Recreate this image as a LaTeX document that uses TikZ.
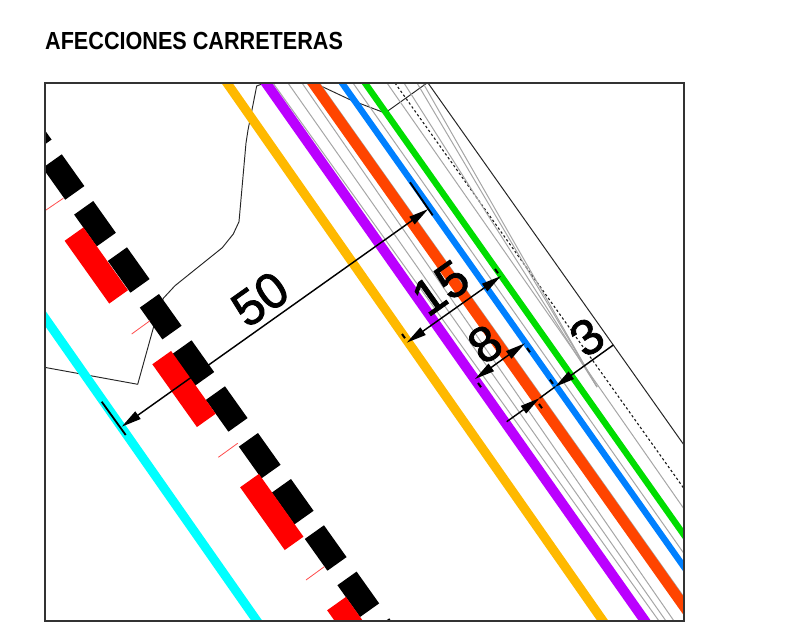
\documentclass[tikz,border=0pt]{standalone}
\usepackage{fontspec}
\setmainfont{Liberation Sans}
\newfontfamily\dimfont[FakeBold=1.6]{Liberation Sans}
\usetikzlibrary{arrows.meta}
\tikzset{
  x=1pt,y=-1pt,
  ext/.style={shorten >=-12pt,shorten <=-12pt},
  road/.style={ext,line cap=butt},
  grayline/.style={ext,draw=black!35,line width=1pt},
  thinline/.style={draw=black!85,line width=0.95pt,line join=round},
  blk/.style={fill=black,inner sep=0pt,minimum width=39pt,minimum height=23.5pt,rotate=-54.6,draw=none},
  redrect/.style={fill=red,inner sep=0pt,minimum width=77pt,minimum height=23pt,rotate=-54.6,draw=none},
  redtick/.style={draw=red!70!white,line width=0.8pt},
  dimline/.style={draw=black,line width=1.45pt},
  dimtip/.style={-{Triangle[length=20pt,width=9pt]}},
  bothtips/.style={{Triangle[length=20pt,width=9pt]}-{Triangle[length=20pt,width=9pt]}},
  bigtick/.style={draw=black,line width=1.8pt},
  smalltick/.style={draw=black,line width=2pt},
  dimtext/.style={inner sep=0pt,rotate=35.4,font=\dimfont\fontsize{50}{50}\selectfont}
}
\definecolor{cOrange}{HTML}{FFB900}
\definecolor{cPurple}{HTML}{BB00FF}
\definecolor{cRed}{HTML}{FF4400}
\definecolor{cBlue}{HTML}{0080FF}
\definecolor{cGreen}{HTML}{00DD00}
\definecolor{cCyan}{HTML}{00FFFF}
\begin{document}
\begin{tikzpicture}
\useasboundingbox (0,0) rectangle (796,629);
\node[anchor=base west,inner sep=0pt,xscale=0.875,font=\fontsize{24.7}{25}\selectfont\bfseries] (title) at (45,49.5) {AFECCIONES CARRETERAS};
\begin{scope}
\clip (45,83) rectangle (684,621);
% thin outlines
\draw[thinline] (262,84) -- (256.7,86) -- (248,130) -- (246,143) -- (239,221.7) -- (233.3,234) -- (222.3,247.7) -- (175,285.7) -- (163.3,298.3) -- (153.3,328) -- (137.7,384.3) -- (40,366.5);
\draw[thinline] (316.7,84) -- (350,99.7) -- (385,113) -- (427,83);
\draw[draw=black!85,line width=1pt,ext] (428,83) -- (684,445);
\draw[draw=black!90,line width=1.1pt,dash pattern=on 2.4pt off 2.4pt] (395,83) -- (690,497);
% gray lines
\draw[grayline] (273,83) -- (659,621);
\draw[grayline] (288,83) -- (666,621);
\draw[grayline] (302,83) -- (674,621);
\draw[grayline] (319.5,83) -- (684,597);
\draw[grayline] (353,83) -- (682.7,551.7);
\draw[grayline] (387,83) -- (682.7,507);
\draw[draw=black!35,line width=1pt] (404,83) -- (597,387);
\draw[draw=black!35,line width=1pt] (417,83) -- (597,387);
\draw[draw=black!35,line width=1pt] (423,83) -- (597,387);
% roads
\draw[road,cCyan,line width=9pt] (45,318) -- (257,621);
\draw[road,cOrange,line width=9.2pt] (227,83) -- (603,621);
\draw[road,cPurple,line width=10pt] (266,83) -- (645,621);
\draw[road,cRed,line width=10.6pt] (313,83) -- (683,605);
\draw[road,cBlue,line width=6.3pt] (342,83) -- (684,567);
\draw[road,cGreen,line width=6.3pt] (365,83) -- (684,535);
% buildings
\foreach \i/\cx/\cy in {0/30.7/130.5,1/63.5/177,2/95/223.7,3/128.7/270,4/160.7/316.7,5/193.3/363,6/226.7/409,7/259.7/455.7,8/292.7/501.7,9/325.7/548,10/358.3/594.3,11/391/641}
  \node[blk] (b\i) at (\cx,\cy) {};
\foreach \i/\cx/\cy in {1/96.3/265.5,2/184/389,3/271.8/512,4/358.8/635}
  \node[redrect] (r\i) at (\cx,\cy) {};
\draw[redtick] (45,210.7) -- (63.3,198.3);
\draw[redtick] (131.7,334) -- (150,320.7);
\draw[redtick] (218.3,457.3) -- (237.7,443.3);
\draw[redtick] (306,580) -- (324.3,566.7);
\end{scope}
% dimension end points
\coordinate (d50a) at (121.7,426.7);
\coordinate (d50b) at (428.3,209);
\coordinate (d15a) at (406.7,342.7);
\coordinate (d15b) at (501,276);
\coordinate (d8a) at (475,379);
\coordinate (d8b) at (525,343.3);
\coordinate (d3a) at (506.7,421.7);
\coordinate (d3b) at (613.3,345);
\coordinate (d3p) at (539.7,398.1);
\coordinate (d3q) at (555,386.9);
% dimension lines
\draw[dimline,bothtips] (d50a) -- (d50b);
\draw[dimline,bothtips] (d15a) -- (d15b);
\draw[dimline,bothtips] (d8a) -- (d8b);
\draw[dimline,dimtip] (d3a) -- (d3p);
\draw[dimline,dimtip] (d3b) -- (d3q);
\draw[dimline] (d3p) -- (d3q);
% ticks
\draw[bigtick] (101.7,401.7) -- (125.7,435);
\draw[bigtick] (410,182.3) -- (432.7,215.3);
\draw[smalltick] (402,334) -- (405,338.2);
\draw[smalltick] (495,269) -- (498,273.2);
\draw[smalltick] (478,383) -- (481,387.2);
\draw[smalltick] (527,348) -- (530,352.2);
\draw[smalltick] (539,404) -- (542,408.2);
\draw[smalltick] (550,379.6) -- (553,383.8);
% labels
\node[dimtext] (t50) at (260,299) {50};
\node[dimtext] (t15) at (440.7,288) {15};
\node[dimtext] (t8) at (485,344) {8};
\node[dimtext] (t3) at (587,337) {3};
% frame
\draw[draw=black!80,line width=1.2pt] (45,83) rectangle (684,621);
\end{tikzpicture}
\end{document}
